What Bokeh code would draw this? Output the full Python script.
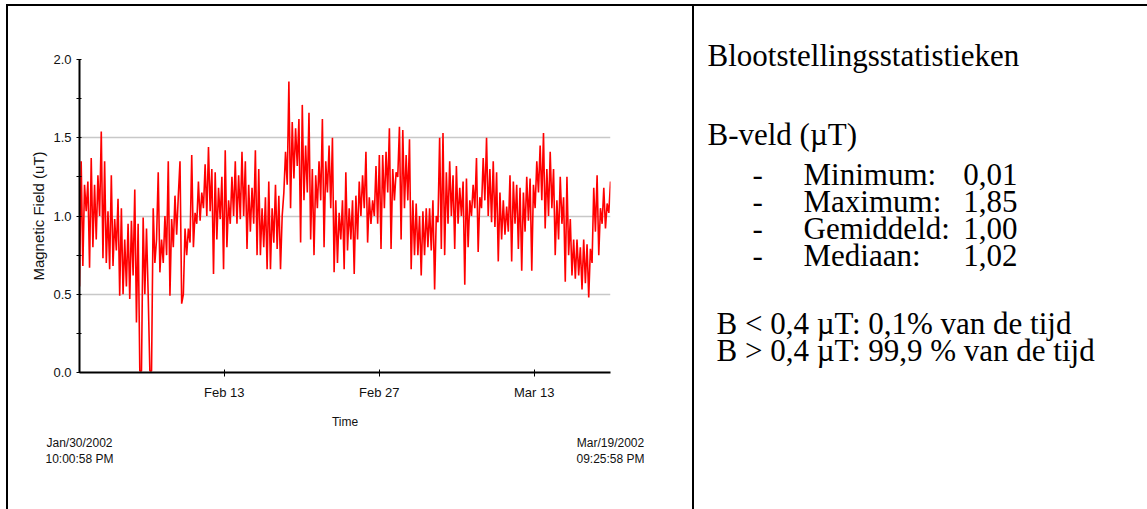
import numpy as np
import pandas as pd
from bokeh.plotting import figure
from bokeh.models import (Range1d, FixedTicker, DatetimeTickFormatter, PrintfTickFormatter,
                          DatetimeAxis, Div, Spacer, ColumnDataSource)
from bokeh.layouts import row, column
from bokeh.embed import file_html
from bokeh.resources import INLINE
from bokeh.core.properties import value

# ---------------- data ----------------
start_time = "2002-01-30 22:00:58"
end_time = "2002-03-19 21:25:58"
x_tick_dates = ["2002-02-13", "2002-02-27", "2002-03-13"]
y_ticks = [0.0, 0.5, 1.0, 1.5, 2.0]
y_minor_ticks = [0.25, 0.75, 1.25, 1.75]
y_label = "Magnetic Field (uT)"
x_label = "Time"

# magnetic field readings (uT), in time order
field_values = [
    0.55, 1.35, 0.68, 1.20, 1.03, 1.22, 0.67, 1.37, 0.80, 1.20, 0.85, 1.26,
    1.00, 1.54, 0.73, 1.35, 0.70, 1.03, 0.66, 1.26, 0.68, 0.98, 0.78, 1.11,
    0.49, 1.05, 0.50, 0.85, 0.55, 0.95, 0.47, 0.97, 0.62, 1.17, 0.32, 0.95,
    0.01, 0.01, 0.99, 0.50, 0.92, 0.50, 0.01, 0.01, 1.05, 0.70, 0.85, 1.28,
    0.64, 0.85, 0.70, 1.00, 0.75, 1.35, 0.49, 0.98, 0.80, 1.13, 0.88, 1.13,
    1.35, 0.44, 0.50, 0.92, 0.75, 0.92, 0.83, 1.39, 0.80, 1.02, 0.95, 1.22,
    0.97, 1.15, 1.05, 1.33, 1.00, 1.44, 1.03, 1.30, 0.63, 1.28, 0.85, 1.18,
    0.98, 1.25, 0.66, 1.42, 0.80, 1.10, 0.95, 1.25, 1.00, 1.35, 0.95, 1.26,
    0.98, 1.41, 1.00, 1.35, 0.79, 1.20, 0.90, 1.18, 0.95, 1.42, 0.75, 1.30,
    # ---
    0.75, 1.05, 0.80, 1.12, 0.66, 1.22, 0.66, 1.05, 0.83, 1.20, 0.79, 1.13,
    0.66, 1.00, 1.15, 1.41, 1.20, 1.86, 1.05, 1.60, 1.24, 1.56, 1.32, 1.62,
    0.83, 1.71, 1.10, 1.45, 1.15, 1.66, 0.85, 1.30, 0.75, 1.26, 1.05, 1.35,
    1.10, 1.62, 0.80, 1.35, 1.15, 1.45, 1.05, 1.50, 0.64, 1.10, 0.70, 1.02,
    0.85, 1.10, 0.66, 1.28, 0.78, 1.05, 0.85, 1.10, 0.63, 1.13, 0.85, 1.22,
    1.00, 1.26, 1.05, 1.41, 0.83, 1.12, 0.95, 1.10, 1.00, 1.32, 0.95, 1.39,
    0.79, 1.39, 1.05, 1.41, 1.15, 1.56, 0.79, 1.30, 1.10, 1.28, 1.25, 1.57,
    0.85, 1.55, 1.05, 1.39, 1.10, 1.49, 0.66, 1.10, 0.75, 1.08, 0.75, 1.00,
    0.62, 1.03, 0.75, 1.05, 0.80, 1.05, 0.78, 1.10, 0.53, 1.00,
    # ---
    0.96, 1.50, 0.79, 1.53, 0.75, 1.28, 0.95, 1.35, 1.00, 1.26, 0.79, 1.32,
    0.95, 1.18, 1.00, 1.22, 0.56, 1.24, 0.80, 1.10, 1.00, 1.20, 1.05, 1.37,
    0.77, 1.12, 1.05, 1.37, 1.10, 1.50, 1.00, 1.30, 0.96, 1.35, 0.93, 1.28,
    0.71, 1.15, 0.85, 1.10, 0.88, 1.06, 0.90, 1.26, 0.71, 1.22, 0.95, 1.20,
    0.79, 1.18, 0.65, 1.15, 0.90, 1.25, 0.97, 1.24, 0.65, 1.20, 1.05, 1.35,
    1.15, 1.45, 1.10, 1.53, 0.92, 1.30, 1.00, 1.41, 1.05, 1.30, 0.75, 1.10,
    0.85, 1.25, 0.95, 1.12, 0.58, 1.25, 0.75, 0.98, 0.62, 0.85, 0.60, 0.85,
    0.62, 0.80, 0.53, 0.85, 0.57, 0.82, 0.48, 0.79, 0.70, 1.18, 0.90, 1.26,
    0.75, 1.05, 0.95, 1.18, 0.92, 1.08, 1.02, 1.22,
]

stats_title = "Blootstellingsstatistieken"
field_heading = "B-veld (\u00b5T)"
stat_names = ["Minimum:", "Maximum:", "Gemiddeld:", "Mediaan:"]
stat_values = ["0,01", "1,85", "1,00", "1,02"]
share_lines = ["B < 0,4 \u00b5T: 0,1% van de tijd", "B > 0,4 \u00b5T: 99,9 % van de tijd"]

# ---------------- chart ----------------
t0 = pd.Timestamp(start_time)
t1 = pd.Timestamp(end_time)
times = pd.date_range(t0, t1, periods=len(field_values))
src = ColumnDataSource(dict(t=times, v=field_values))

CHART_FONT = "Liberation Sans"
TXT = "#111111"

p = figure(width=684, height=503, x_axis_type="datetime",
           x_range=Range1d(t0, t1), y_range=Range1d(0, 2),
           output_backend="svg", toolbar_location=None,
           min_border_left=71, min_border_right=82,
           min_border_top=53, min_border_bottom=137)
p.outline_line_color = None
p.background_fill_color = "white"
p.border_fill_color = "white"
p.xgrid.visible = False
p.ygrid.grid_line_color = "#c8c8c8"
p.ygrid.grid_line_width = 1.5

p.line("t", "v", source=src, line_color="#ff0000", line_width=1.6)

tick_ms = [pd.Timestamp(d).value / 1e6 for d in x_tick_dates]
p.xaxis.ticker = FixedTicker(ticks=tick_ms)
fmt = "%b %d"
p.xaxis.formatter = DatetimeTickFormatter(seconds=fmt, minsec=fmt, minutes=fmt, hourmin=fmt,
                                          hours=fmt, days=fmt, months=fmt, years=fmt)
p.yaxis.ticker = FixedTicker(ticks=y_ticks, minor_ticks=y_minor_ticks)
p.yaxis.formatter = PrintfTickFormatter(format="%.1f")

for ax in (p.xaxis[0], p.yaxis[0]):
    ax.axis_line_color = "black"
    ax.axis_line_width = 2
    ax.major_tick_line_color = "black"
    ax.major_tick_line_width = 1
    ax.major_label_text_font = CHART_FONT
    ax.major_label_text_font_size = "13px"
    ax.major_label_text_color = TXT
    ax.axis_label_text_font = CHART_FONT
    ax.axis_label_text_font_style = "normal"
    ax.axis_label_text_color = TXT

p.xaxis.axis_label = x_label
p.xaxis.axis_label_text_font_size = "12px"
p.xaxis.major_tick_in = 3
p.xaxis.major_tick_out = 4
p.xaxis.minor_tick_line_color = None
p.xaxis.major_label_standoff = 8
p.xaxis.axis_label_standoff = 12

p.yaxis.axis_label = y_label
p.yaxis.axis_label_text_font_size = "15px"
p.yaxis.major_tick_in = 2
p.yaxis.major_tick_out = 3
p.yaxis.minor_tick_in = 2
p.yaxis.minor_tick_out = 3
p.yaxis.minor_tick_line_color = "black"
p.yaxis.major_label_standoff = 5
p.yaxis.axis_label_standoff = 3

# start / end time stamps under the axis (second, unlined axis)
t0_ms = t0.value / 1e6
t1_ms = t1.value / 1e6
stamp_fmt = "%b/%d/%Y\n%I:%M:%S %p"
date_axis = DatetimeAxis(
    ticker=FixedTicker(ticks=[t0_ms, t1_ms]),
    formatter=DatetimeTickFormatter(seconds=stamp_fmt, minsec=stamp_fmt, minutes=stamp_fmt,
                                    hourmin=stamp_fmt, hours=stamp_fmt, days=stamp_fmt,
                                    months=stamp_fmt, years=stamp_fmt),
    axis_line_color=None, major_tick_line_color=None, minor_tick_line_color=None,
    major_tick_in=0, major_tick_out=0, major_label_standoff=4,
    major_label_text_font=CHART_FONT, major_label_text_font_size="12px",
    major_label_text_color=TXT)
p.add_layout(date_axis, "below")

# ---------------- statistics panel ----------------
SERIF = "Liberation Serif"
r = figure(width=453, height=503, x_range=Range1d(694, 1147), y_range=Range1d(509, 6),
           output_backend="svg", toolbar_location=None,
           x_axis_location=None, y_axis_location=None, min_border=0)
r.outline_line_color = None
r.grid.visible = False
r.background_fill_color = "white"
r.border_fill_color = "white"

def put(x, y, txt, align="left"):
    r.text(x=[x], y=[y], text=[txt], text_font=value(SERIF), text_font_size="31px",
           text_color="black", text_baseline="alphabetic", text_align=align)

put(707, 55, stats_title)
put(707, 134, field_heading)
stat_y = [174, 201, 228, 255]
for name, val, yy in zip(stat_names, stat_values, stat_y):
    put(752, yy, "-")
    put(803, yy, name)
    put(1017, yy, val, align="right")
put(716, 323, share_lines[0])
put(716, 350, share_lines[1])

# ---------------- table borders ----------------
def bar(w, h):
    return Div(width=w, height=h, margin=0, styles={"background-color": "black"})

layout = column(
    Spacer(width=1147, height=4, margin=0),
    row(Spacer(width=6, height=2, margin=0), bar(1141, 2)),
    row(Spacer(width=6, height=503, margin=0), bar(2, 503), p, bar(2, 503), column(r)),
)

html = file_html(layout, INLINE)
html = html.replace("</head>", "<style>html, body { margin: 0; padding: 0; }</style></head>", 1)
open("out.html", "w").write(html)
